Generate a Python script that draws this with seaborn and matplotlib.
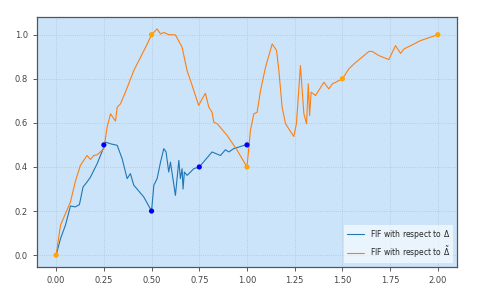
import matplotlib
matplotlib.use("Agg")
import matplotlib.pyplot as plt
import numpy as np
import pandas as pd
import seaborn as sns

# FIF with respect to Delta (blue)
delta_x = [0.0, 0.023, 0.049, 0.075, 0.10, 0.122, 0.141, 0.162, 0.18, 0.215, 0.25,
           0.258, 0.285, 0.32, 0.346, 0.372, 0.389, 0.407, 0.424, 0.459, 0.5,
           0.512, 0.529, 0.547, 0.564, 0.576, 0.59, 0.599, 0.625, 0.643, 0.651,
           0.66, 0.665, 0.672, 0.686, 0.704, 0.721, 0.75,
           0.817, 0.861, 0.887, 0.905, 0.93, 1.0]
delta_y = [0.0, 0.075, 0.136, 0.223, 0.219, 0.229, 0.309, 0.332, 0.354, 0.415, 0.49,
           0.513, 0.505, 0.498, 0.437, 0.347, 0.37, 0.317, 0.30, 0.264, 0.2,
           0.317, 0.347, 0.422, 0.483, 0.468, 0.377, 0.422, 0.271, 0.43, 0.347,
           0.392, 0.30, 0.377, 0.362, 0.377, 0.392, 0.4,
           0.468, 0.452, 0.478, 0.468, 0.483, 0.502]

# FIF with respect to Delta tilde (orange)
tilde_x = [0.0, 0.023, 0.075, 0.10, 0.127, 0.162, 0.18, 0.197, 0.215, 0.25,
           0.267, 0.285, 0.311, 0.32, 0.337, 0.363, 0.407, 0.442, 0.477, 0.5,
           0.529, 0.547, 0.564, 0.59, 0.625, 0.66, 0.686, 0.704, 0.747, 0.765,
           0.782, 0.80, 0.817, 0.826, 0.844, 0.896, 0.949, 1.0,
           1.018, 1.036, 1.053, 1.071, 1.097, 1.132, 1.155, 1.167, 1.184, 1.202,
           1.245, 1.259, 1.28, 1.298, 1.312, 1.321, 1.328, 1.336, 1.359, 1.403,
           1.429, 1.447, 1.464, 1.5, 1.534, 1.56, 1.639, 1.656, 1.691, 1.743,
           1.778, 1.805, 1.822, 1.857, 1.909, 2.0]
tilde_y = [0.0, 0.136, 0.241, 0.332, 0.407, 0.452, 0.434, 0.452, 0.455, 0.483,
           0.58, 0.641, 0.608, 0.671, 0.686, 0.739, 0.837, 0.897, 0.957, 1.0,
           1.026, 1.003, 1.01, 1.0, 0.999, 0.943, 0.837, 0.792, 0.679, 0.709,
           0.734, 0.671, 0.648, 0.603, 0.596, 0.543, 0.475, 0.4,
           0.566, 0.641, 0.648, 0.747, 0.852, 0.958, 0.928, 0.837, 0.671, 0.596,
           0.538, 0.596, 0.86, 0.641, 0.596, 0.777, 0.633, 0.739, 0.724, 0.784,
           0.754, 0.777, 0.784, 0.8, 0.845, 0.867, 0.924, 0.924, 0.905, 0.887,
           0.95, 0.915, 0.935, 0.95, 0.973, 1.0]

delta_pts_x = [0.25, 0.5, 0.75, 1.0]
delta_pts_y = [0.5, 0.2, 0.4, 0.5]
tilde_pts_x = [0.0, 0.5, 1.0, 1.5, 2.0]
tilde_pts_y = [0.0, 1.0, 0.4, 0.8, 1.0]

sns.set_style("ticks")
plt.rcParams["font.family"] = ["DejaVu Sans"]

fig, ax = plt.subplots(figsize=(4.81, 2.91), dpi=100)
fig.subplots_adjust(left=0.077, right=0.95, top=0.94, bottom=0.083)
ax.set_facecolor("#cce4fa")

df_d = pd.DataFrame({"x": delta_x, "y": delta_y})
df_t = pd.DataFrame({"x": tilde_x, "y": tilde_y})
sns.lineplot(data=df_d, x="x", y="y", sort=False, color="#1f77b4", lw=0.8,
             label=r"FIF with respect to $\Delta$", ax=ax)
sns.lineplot(data=df_t, x="x", y="y", sort=False, color="#ff7f0e", lw=0.8,
             label=r"FIF with respect to $\tilde{\Delta}$", ax=ax)
sns.scatterplot(x=delta_pts_x, y=delta_pts_y, color="blue", s=14, edgecolor="none",
                zorder=3, ax=ax)
sns.scatterplot(x=tilde_pts_x, y=tilde_pts_y, color="orange", s=14, edgecolor="none",
                zorder=3, ax=ax)

ax.set_xlim(-0.1, 2.1)
ax.set_ylim(-0.053, 1.078)
ax.set_xticks(np.arange(0, 2.01, 0.25))
ax.set_yticks(np.arange(0, 1.01, 0.2))
ax.set_xlabel("")
ax.set_ylabel("")
ax.grid(True, linestyle=":", color="#aec3da", lw=0.6)
ax.tick_params(labelsize=6, colors="#444444", length=3, width=0.6)
for sp in ax.spines.values():
    sp.set_visible(True)
    sp.set_color("#555555")
    sp.set_linewidth(0.9)

leg = ax.legend(loc="lower right", fontsize=5.5, frameon=True, fancybox=False,
                handlelength=2.2)
leg.get_frame().set_edgecolor("none")
leg.get_frame().set_facecolor("white")
leg.get_frame().set_alpha(0.6)

fig.savefig("out.png", dpi=100)
